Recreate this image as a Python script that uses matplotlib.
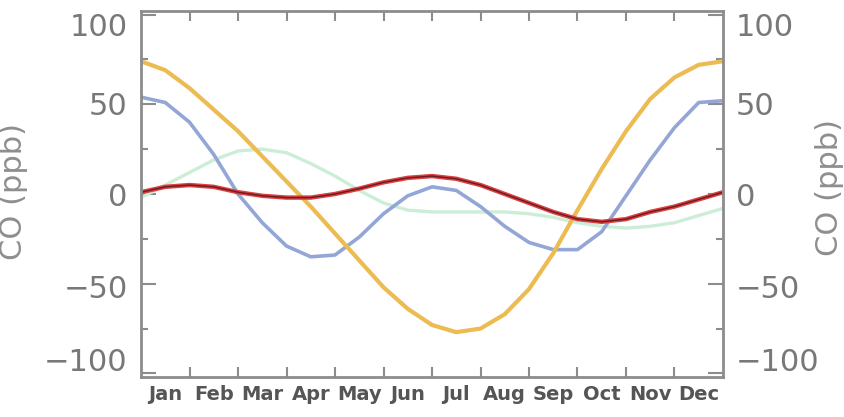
import numpy as np
import matplotlib
matplotlib.use("Agg")
import matplotlib.pyplot as plt
from matplotlib.ticker import MultipleLocator, FixedLocator
import matplotlib.transforms as mtransforms

months = ["Jan", "Feb", "Mar", "Apr", "May", "Jun", "Jul", "Aug", "Sep", "Oct", "Nov", "Dec"]
# sample positions in months (half-month steps, 0 = start of Jan, 12 = end of Dec)
t = [0, 0.5, 1, 1.5, 2, 2.5, 3, 3.5, 4, 4.5, 5, 5.5, 6, 6.5, 7, 7.5, 8, 8.5, 9, 9.5, 10, 10.5, 11, 11.5, 12]

yellow = [74, 69, 59, 47, 35, 21, 7, -7, -22, -37, -52, -64, -73, -77, -75, -67, -53, -33, -9, 14, 35, 53, 65, 72, 74]
blue = [54, 51, 40, 22, 0, -16, -29, -35, -34, -24, -11, -1, 4, 2, -7, -18, -27, -31, -31, -21, -1, 19, 37, 51, 52]
red = [1, 4, 5, 4, 1, -1, -2, -2, 0, 3, 6.5, 9, 10, 8.5, 5, 0, -5, -10, -14, -15.5, -14, -10, -7, -3, 1]
green = [-2, 5, 12, 19, 24, 25, 23, 17, 10, 2, -5, -9, -10, -10, -10, -10, -11, -13, -16, -18, -19, -18, -16, -12, -8]

ytick_vals = [100, 50, 0, -50, -100]
ytick_text = ["100", "50", "0", "\u221250", "\u2212100"]

fig = plt.figure(figsize=(8.45, 4.17), dpi=100)
ax = fig.add_axes([0.1669, 0.0959, 0.6887, 0.8777])

gray = "#787878"
kw = dict(solid_capstyle="butt", solid_joinstyle="round")
ax.plot(t, green, color="#cdeed6", lw=2.4, **kw)
ax.plot(t, blue, color="#93a6d6", lw=2.6, **kw)
ax.plot(t, yellow, color="#ecbb52", lw=3.0, **kw)
ax.plot(t, red, color="#dd4040", lw=3.2, **kw)
ax.plot(t, red, color="#6e1d22", lw=1.1, **kw)

ax.set_xlim(0, 12)
ax.set_ylim(-102, 102)

for s in ax.spines.values():
    s.set_color("#8c8c8c")
    s.set_linewidth(2)

# x ticks at month boundaries, labels centered in months
ax.xaxis.set_major_locator(FixedLocator(list(range(1, 12))))
ax.xaxis.set_minor_locator(FixedLocator([m + 0.5 for m in range(12)]))
ax.set_xticklabels([])
ax.set_xticklabels(months, minor=True, fontsize=14, fontweight="bold", color="#555555")
ax.tick_params(axis="x", which="major", direction="in", length=7, width=1.5, color="#8c8c8c", top=True)
ax.tick_params(axis="x", which="minor", length=0, pad=6)

ax.yaxis.set_major_locator(MultipleLocator(50))
ax.yaxis.set_minor_locator(MultipleLocator(25))
ax.tick_params(axis="y", which="major", direction="in", length=11, width=1.5, color="#8c8c8c",
               right=True, labelleft=False)
ax.tick_params(axis="y", which="minor", direction="in", length=5, width=1.5, color="#8c8c8c", right=True)

# y tick labels (end labels pulled inside the frame, as in the original)
offsets_px = {100: -13, 50: -2, 0: -3, -50: -6, -100: 11}
trans = mtransforms.blended_transform_factory(ax.transAxes, ax.transData)
for v, s in zip(ytick_vals, ytick_text):
    dy = offsets_px[v] * 0.72
    ax.annotate(s, xy=(0, v), xycoords=trans, xytext=(-9.5, dy), textcoords="offset points",
                ha="right", va="center", fontsize=22, color=gray)
    ax.annotate(s, xy=(1, v), xycoords=trans, xytext=(9.5, dy), textcoords="offset points",
                ha="left", va="center", fontsize=22, color=gray)

fig.text(0.016, 0.54, "CO (ppb)", rotation=90, ha="center", va="center", fontsize=22, color="#8e8e8e")
fig.text(0.982, 0.55, "CO (ppb)", rotation=90, ha="center", va="center", fontsize=22, color="#8e8e8e")

fig.savefig("out.png", dpi=100)
